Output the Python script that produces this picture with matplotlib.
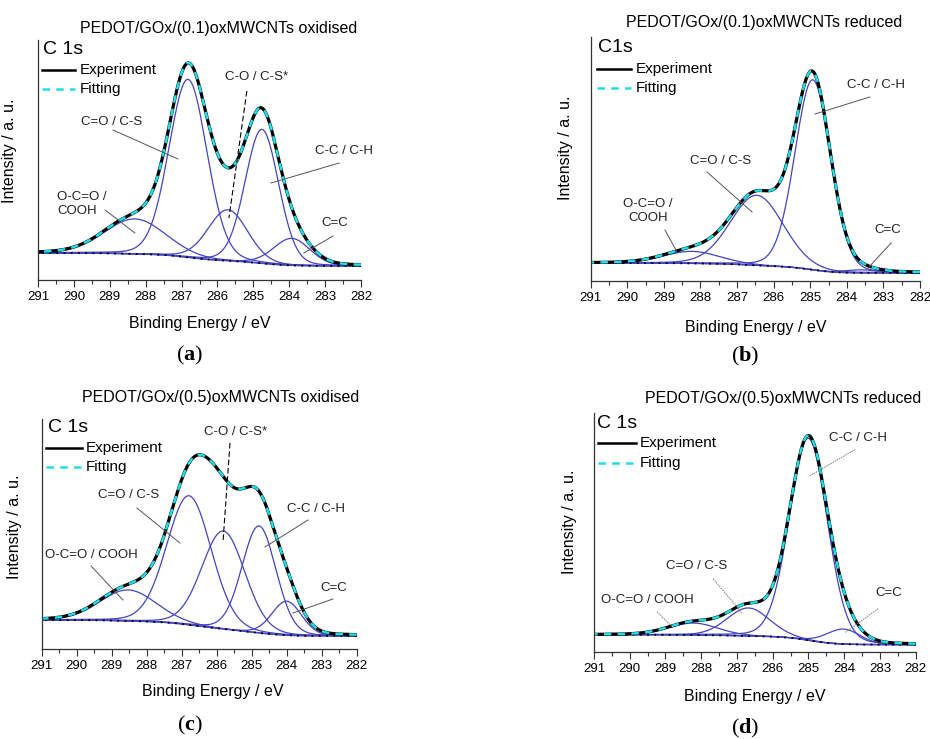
# XPS C 1s espectros con ajuste de picos (4 paneles)
import numpy as np
import matplotlib.pyplot as plt
from matplotlib.lines import Line2D

plt.rcParams['font.family'] = ['Liberation Sans', 'DejaVu Sans']
plt.rcParams['mathtext.fontset'] = 'custom'
plt.rcParams['mathtext.bf'] = 'Liberation Serif:bold'

W, H = 930, 739
energy = np.linspace(282, 291, 901)
eta = 0.1  # fraccion lorentziana

# picos: centro (eV), altura (a.u.), FWHM (eV); fondo en 282 y 291 eV
a_centres = [288.30, 286.82, 285.71, 284.76, 283.93]
a_heights = [35, 178, 51, 134, 27]
a_fwhm = [2.0, 1.25, 1.3, 1.1, 1.2]
a_bg = [14, 27]

b_centres = [288.24, 286.46, 284.93, 283.6]
b_heights = [12, 70, 190, 3]
b_fwhm = [1.8, 1.7, 1.15, 1.0]
b_bg = [8, 18]

c_centres = [288.53, 286.79, 285.81, 284.79, 284.0]
c_heights = [31, 129, 98, 107, 34]
c_fwhm = [1.9, 1.5, 1.45, 1.15, 1.0]
c_bg = [13, 29]

d_centres = [288.22, 286.68, 285.0, 284.02]
d_heights = [12, 28, 202, 15]
d_fwhm = [1.6, 1.4, 1.25, 1.1]
d_bg = [7, 17]

titles = ['PEDOT/GOx/(0.1)oxMWCNTs oxidised', 'PEDOT/GOx/(0.1)oxMWCNTs reduced',
          'PEDOT/GOx/(0.5)oxMWCNTs oxidised', 'PEDOT/GOx/(0.5)oxMWCNTs reduced']
core = ['C 1s', 'C1s', 'C 1s', 'C 1s']
letters = ['a', 'b', 'c', 'd']

# etiquetas: texto, (E, I) del texto, (E, I) inicio y fin de la linea, estilo
a_labels = [('O-C=O /\nCOOH', 290.47, 76, 289.13, 70, 288.30, 47, 'left'),
            ('C=O / C-S', 288.94, 158, 288.91, 150, 287.10, 121, 'center'),
            ('C-O / C-S*', 284.90, 203, 285.18, 189, 285.68, 62, 'dash'),
            ('C-C / C-H', 282.47, 129, 282.61, 117, 284.51, 97, 'center'),
            ('C=C', 282.72, 57, 282.78, 44, 283.59, 27, 'center')]
b_labels = [('O-C=O /\nCOOH', 289.43, 70, 288.97, 51, 288.64, 29, 'center'),
            ('C=O / C-S', 287.44, 120, 287.82, 109, 286.59, 69, 'center'),
            ('C-C / C-H', 283.20, 196, 283.37, 184, 284.87, 167, 'center'),
            ('C=C', 282.87, 51, 282.79, 38, 283.42, 13, 'center')]
c_labels = [('O-C=O / COOH', 289.59, 94, 289.59, 83, 288.68, 49, 'center'),
            ('C=O / C-S', 288.53, 154, 288.28, 141, 287.05, 106, 'center'),
            ('C-O / C-S*', 285.45, 217, 285.62, 206, 285.82, 107, 'dash'),
            ('C-C / C-H', 283.16, 140, 283.39, 129, 284.62, 102, 'center'),
            ('C=C', 282.65, 61, 282.68, 50, 283.82, 36, 'center')]
d_labels = [('O-C=O / COOH', 289.52, 52, 289.24, 40, 288.79, 24, 'dot'),
            ('C=O / C-S', 288.12, 86, 287.67, 73, 286.86, 39, 'dot'),
            ('C-C / C-H', 283.61, 214, 283.70, 202, 284.96, 176, 'dot'),
            ('C=C', 282.75, 59, 283.05, 43, 283.98, 19, 'dot')]

# posicion de los ejes en pixeles: izquierda, derecha, abajo, arriba
boxes = [(38, 361, 280, 40), (590.7, 920, 281, 37), (41.7, 356.7, 649, 419), (594, 915.7, 651.7, 413)]
title_pos = [(219, 29), (764, 22), (221, 397), (783, 398)]
core_pos = [(43, 49), (598, 48), (48, 427), (597, 423)]
leg_pos = [(42, 75, 80, 70, 89), (597, 631, 636, 69, 88), (46, 82, 86, 448, 467), (598, 636, 640, 443, 463)]
letter_pos = [(190, 355), (745, 356), (190, 725), (745, 728)]
ylab_pos = [(-0.065, 0.54), (-0.054, 0.545), (-0.0625, 0.53), (-0.053, 0.543)]
xlab_pos = [(0.50, -0.15), (0.50, -0.16), (0.544, -0.152), (0.50, -0.156)]

panels = [(a_centres, a_heights, a_fwhm, a_bg, a_labels),
          (b_centres, b_heights, b_fwhm, b_bg, b_labels),
          (c_centres, c_heights, c_fwhm, c_bg, c_labels),
          (d_centres, d_heights, d_fwhm, d_bg, d_labels)]

blue = '#4343c4'
cyan = '#20dde6'


def pseudo_voigt(x, c, h, w):
    g = np.exp(-4 * np.log(2) * (x - c) ** 2 / w ** 2)
    l = 1 / (1 + 4 * (x - c) ** 2 / w ** 2)
    return h * ((1 - eta) * g + eta * l)


def fpx(x, y):
    return x / W, 1 - y / H


fig = plt.figure(figsize=(W / 100, H / 100), dpi=100)

for i, (cs, hs, ws, bg, labels) in enumerate(panels):
    left, right, bottom, top = boxes[i]
    ax = fig.add_axes([left / W, 1 - bottom / H, (right - left) / W, (bottom - top) / H])

    peaks = [pseudo_voigt(energy, c, h, w) for c, h, w in zip(cs, hs, ws)]
    total = np.sum(peaks, axis=0)
    # fondo tipo Shirley
    cum = np.cumsum(total)
    back = bg[0] + (bg[1] - bg[0]) * cum / cum[-1]
    env = back + total

    for p in peaks:
        ax.plot(energy, back + p, color=blue, lw=0.9)
    ax.plot(energy, back, color=blue, lw=1.0)
    ax.plot(energy, back, color='black', lw=1.3, ls=(0, (1, 3)))
    ax.plot(energy, env, color='black', lw=2.3)
    ax.plot(energy, env, color=cyan, lw=1.8, ls=(0, (3, 2.5)))

    ax.set_xlim(291, 282)
    ax.set_ylim(0, bottom - top)
    ax.set_xticks(np.arange(282, 292, 1))
    ax.set_xticks(np.arange(282.5, 291, 1), minor=True)
    ax.tick_params(axis='x', which='major', length=5, width=0.8, labelsize=9.5, pad=3, color='#333333')
    ax.tick_params(axis='x', which='minor', length=3, width=0.8, color='#333333')
    ax.set_yticks([])
    for s in ['top', 'right']:
        ax.spines[s].set_visible(False)
    for s in ['left', 'bottom']:
        ax.spines[s].set_color('#333333')
        ax.spines[s].set_linewidth(0.9)

    ax.set_xlabel('Binding Energy / eV', fontsize=11.5)
    ax.xaxis.set_label_coords(*xlab_pos[i])
    ax.set_ylabel('Intensity / a. u.', fontsize=11.5)
    ax.yaxis.set_label_coords(*ylab_pos[i])

    for text, tx, ty, x0, y0, x1, y1, style in labels:
        ha = 'left' if style == 'left' else 'center'
        ax.text(tx, ty, text, fontsize=9.5, ha=ha, va='center', linespacing=1.3, color='#222222')
        if style == 'dash':
            ax.plot([x0, x1], [y0, y1], color='black', lw=0.8, ls=(0, (5, 2.5)))
        elif style == 'dot':
            ax.plot([x0, x1], [y0, y1], color='#777777', lw=0.7, ls=(0, (1.5, 1)))
        else:
            ax.plot([x0, x1], [y0, y1], color='#555555', lw=0.7)

    fig.text(*fpx(*title_pos[i]), titles[i], fontsize=11.5, ha='center', va='center')
    fig.text(*fpx(*core_pos[i]), core[i], fontsize=14, ha='left', va='center')

    lx0, lx1, tx, y_exp, y_fit = leg_pos[i]
    fig.add_artist(Line2D([lx0 / W, lx1 / W], [1 - y_exp / H] * 2, color='black', lw=1.8))
    fig.add_artist(Line2D([lx0 / W, lx1 / W], [1 - y_fit / H] * 2, color=cyan, lw=1.8, ls=(0, (3, 2.5))))
    fig.text(tx / W, 1 - y_exp / H, 'Experiment', fontsize=11, ha='left', va='center')
    fig.text(tx / W, 1 - y_fit / H, 'Fitting', fontsize=11, ha='left', va='center')

    fig.text(*fpx(*letter_pos[i]), '(' + r'$\mathbf{' + letters[i] + '}$' + ')',
             fontsize=16, ha='center', va='center', family='Liberation Serif')

fig.savefig('out.png', dpi=100)
